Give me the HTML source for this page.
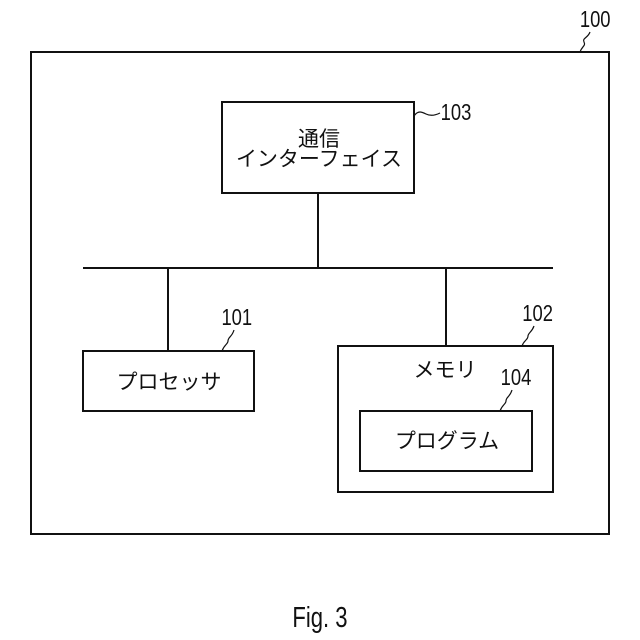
<!DOCTYPE html>
<html><head><meta charset="utf-8"><style>
html,body{margin:0;padding:0;background:#fff}
svg{display:block}
text{font-family:"Liberation Sans","Noto Sans CJK JP",sans-serif;fill:#111}
</style></head><body>
<svg width="640" height="640" viewBox="0 0 640 640" xmlns="http://www.w3.org/2000/svg">
<g fill="none" stroke="#111" stroke-width="2">
<rect x="31" y="52" width="578" height="482"/>
<rect x="222" y="102" width="192" height="91"/>
<line x1="83" y1="268" x2="553" y2="268"/>
<line x1="318" y1="193" x2="318" y2="268"/>
<line x1="168" y1="268" x2="168" y2="351"/>
<line x1="446" y1="268" x2="446" y2="346"/>
<rect x="83" y="351" width="171" height="60"/>
<rect x="338" y="346" width="215" height="146"/>
<rect x="360" y="411" width="172" height="60"/>
</g>
<g fill="none" stroke="#111" stroke-width="1.2">
<path d="M580 52 C582 46,586 46,584 42 C582 38,588 38,590 32"/>
<path d="M414 116 C418 110,422 112,426 114 C430 116,434 116,440 113"/>
<path d="M222 351 C224 345,228 344,228 341 C228 337,232 337,234 330"/>
<path d="M522 346 C524 340,528 340,528 336 C528 333,532 332,534 326"/>
<path d="M500 411 C502 405,506 404,506 401 C506 397,510 397,512 390"/>
</g>
<g font-size="23" text-anchor="middle" transform="scale(0.8,1)">
<text x="744" y="27">100</text>
<text x="570" y="120">103</text>
<text x="296" y="325">101</text>
<text x="672" y="321">102</text>
<text x="645" y="385">104</text>
</g>
<g font-size="21" text-anchor="middle">
<text x="319" y="146">通信</text>
<text x="319" y="166">インターフェイス</text>
<text x="169" y="389">プロセッサ</text>
<text x="445" y="377">メモリ</text>
<text x="447" y="448">プログラム</text>
</g>
<text x="421" y="627" font-size="29" text-anchor="middle" transform="scale(0.76,1)" font-family="Liberation Mono">Fig. 3</text>
</svg>
</body></html>
